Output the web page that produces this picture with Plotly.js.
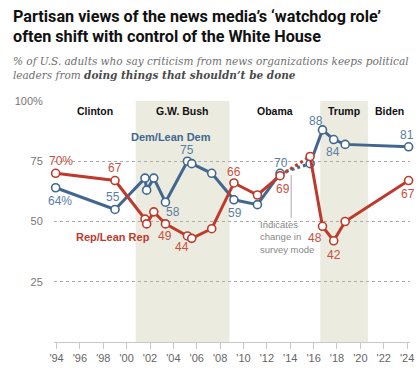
<!DOCTYPE html>
<html><head><meta charset="utf-8">
<script src="https://cdn.plot.ly/plotly-3.0.1.min.js"></script>
<style>html,body{margin:0;padding:0;background:#fff}#c{width:420px;height:368px}</style>
</head><body><div id="c"></div>
<script>
// Survey dates (decimal years) and values
const years   = [1993.92, 1999.0, 2001.57, 2001.71, 2002.32, 2003.32, 2005.2, 2005.57, 2007.28, 2009.18, 2011.19, 2013.13, 2015.7, 2016.76, 2017.72, 2018.7, 2024.13];
const demVals = [64, 55, 68, 63, 68, 58, 75, 74, 70, 59, 57, 70, 74, 88, 84, 82, 81];
const repVals = [70, 67, 51, 49, 54, 49, 44, 43, 47, 66, 61, 69, 77, 48, 42, 50, 67];
const modeChangeIndex = 11; // segment from index 11 to 12 is dotted (survey mode change)

const demLabels = {0:'64%',1:'55',5:'58',6:'75',9:'59',11:'70',13:'88',14:'84',16:'81'};
const repLabels = {0:'70%',1:'67',5:'49',6:'44',9:'66',11:'69',13:'48',14:'42',16:'67'};

const tickYears = [1994,1996,1998,2000,2002,2004,2006,2008,2010,2012,2014,2016,2018,2020,2022,2024];
const tickText  = tickYears.map(y => "'" + String(y).slice(2));
const yTicks = [25, 50, 75, 100];
const yTickText = ['25', '50', '75', '100%'];

const presidents = ['Clinton', 'G.W. Bush', 'Obama', 'Trump', 'Biden'];
const presidentX = [1997.28, 2004.8, 2012.7, 2018.6, 2022.5];
const shadedTerms = [[2000.77, 2008.8], [2016.57, 2020.65]];

// styling
const BLUE = '#41678f', RED = '#be3a2c';
const BLUE_L = '#5a7ea3', RED_L = '#c8503f';
const L = 54, R = 10, T = 101, B = 26, W = 420, H = 368;
const PW = W - L - R, PH = H - T - B;
const px = x => (x - L) / PW;
const py = y => (H - B - y) / PH;

function seriesTraces(vals, color) {
  const k = modeChangeIndex;
  const common = {type:'scatter', hoverinfo:'skip', showlegend:false, cliponaxis:false};
  return [
    Object.assign({}, common, {x: years.slice(0, k+1), y: vals.slice(0, k+1), mode:'lines', line:{color, width:3}}),
    Object.assign({}, common, {x: years.slice(k, k+2), y: vals.slice(k, k+2), mode:'lines', line:{color, width:3, dash:'dot'}}),
    Object.assign({}, common, {x: years.slice(k+1), y: vals.slice(k+1), mode:'lines', line:{color, width:3}}),
    Object.assign({}, common, {x: years, y: vals, mode:'markers', marker:{symbol:'circle', size:8, color:'#fff', line:{color, width:1.6}}})
  ];
}

const data = [...seriesTraces(demVals, BLUE), ...seriesTraces(repVals, RED)];

// label offsets [xshift, yshift] in px
const demOff = {0:[4,-13],1:[-2,12],5:[8,-10],6:[0,11],9:[1,-13],11:[1,10],13:[-6,9],14:[-1,-12],16:[-2,12]};
const repOff = {0:[5,12],1:[0,13],5:[0,-12],6:[-5,-11],9:[0,11],11:[3,-13],13:[-7,-12],14:[0,-14],16:[-1,-13]};

const ann = [];
function addLabels(labels, offs, vals, color) {
  Object.keys(labels).forEach(i => {
    ann.push({x: years[i], y: vals[i], xref:'x', yref:'y', text: labels[i], showarrow:false,
      xshift: offs[i][0], yshift: offs[i][1], font:{family:'Liberation Sans, Arial', size:12, color}});
  });
}
addLabels(demLabels, demOff, demVals, BLUE_L);
addLabels(repLabels, repOff, repVals, RED_L);

presidents.forEach((p, i) => ann.push({x: presidentX[i], y: 96, xref:'x', yref:'y', text: '<b>'+p+'</b>', showarrow:false,
  font:{family:'Liberation Sans, Arial', size:10.5, color:'#111'}}));

ann.push({x: 2003.81, y: 85.2, xref:'x', yref:'y', text:'<b>Dem/Lean Dem</b>', showarrow:false, font:{family:'Liberation Sans, Arial', size:11, color:BLUE}});
ann.push({x: 1998.82, y: 43.7, xref:'x', yref:'y', text:'<b>Rep/Lean Rep</b>', showarrow:false, font:{family:'Liberation Sans, Arial', size:11, color:RED}});

ann.push({x: 2011.2, y: py(237), xref:'x', yref:'paper', xanchor:'left', yanchor:'middle', align:'left', showarrow:false,
  text:'Indicates<br>change in<br>survey mode', font:{family:'Liberation Sans, Arial', size:9.5, color:'#888'}});

// title & subtitle
ann.push({x: px(11), y: py(17), xref:'paper', yref:'paper', xanchor:'left', yanchor:'middle', showarrow:false,
  text:'<b>Partisan views of the news media’s ‘watchdog role’</b>', font:{family:'Roboto, Liberation Sans', size:16.2, color:'#111'}});
ann.push({x: px(11), y: py(36), xref:'paper', yref:'paper', xanchor:'left', yanchor:'middle', showarrow:false,
  text:'<b>often shift with control of the White House</b>', font:{family:'Roboto, Liberation Sans', size:16.2, color:'#111'}});
ann.push({x: px(11), y: py(68.3), xref:'paper', yref:'paper', xanchor:'left', yanchor:'middle', align:'left', showarrow:false,
  text:'<i>% of U.S. adults who say criticism from news organizations keeps political<br>leaders from <b><span style="color:#4a4a4a">doing things that shouldn’t be done</span></b></i>',
  font:{family:'DejaVu Serif, serif', size:10.5, color:'#6f6f6f'}});

const shapes = shadedTerms.map(t => ({type:'rect', xref:'x', yref:'paper', x0:t[0], x1:t[1], y0:0, y1:1, layer:'below', fillcolor:'#ecebe0', line:{width:0}}));
shapes.push({type:'line', xref:'x', yref:'y', x0:2014.08, x1:2014.08, y0:69.3, y1:51.5, line:{color:'#aaa', width:1}});

const layout = {
  width: W, height: H, margin:{l:L, r:R, t:T, b:B}, paper_bgcolor:'#fff', plot_bgcolor:'rgba(0,0,0,0)',
  xaxis:{range:[1993.78, 2024.25], tickvals:tickYears, ticktext:tickText, showgrid:false, zeroline:false,
    showline:true, linecolor:'#c8c8c8', linewidth:1, ticks:'outside', ticklen:6, tickcolor:'#c8c8c8',
    tickfont:{family:'Liberation Sans, Arial', size:11, color:'#666'}, fixedrange:true},
  yaxis:{range:[0, 100], tickvals:yTicks, ticktext:yTickText, showgrid:true, gridcolor:'#aaa', griddash:'dot', gridwidth:1,
    zeroline:false, showline:false, ticks:'outside', ticklen:8, tickcolor:'rgba(0,0,0,0)',
    tickfont:{family:'Liberation Sans, Arial', size:11, color:'#777'}, fixedrange:true},
  annotations: ann, shapes: shapes, showlegend:false
};
Plotly.newPlot('c', data, layout, {displayModeBar:false, staticPlot:true});
</script></body></html>
